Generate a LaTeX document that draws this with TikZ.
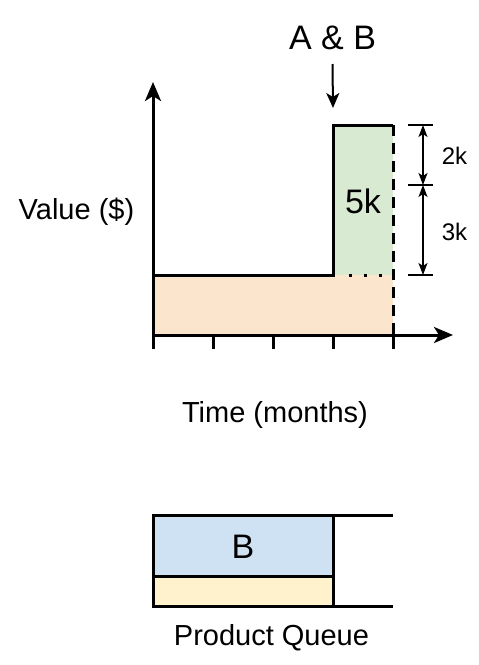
\documentclass[tikz,border=0pt]{standalone}
\usepackage{fontspec}
\setmainfont{Liberation Sans}
\usetikzlibrary{arrows.meta,positioning}
\definecolor{peach}{HTML}{FCE5CD}
\definecolor{mint}{HTML}{D9EAD3}
\definecolor{sky}{HTML}{CFE2F3}
\definecolor{cream}{HTML}{FFF2CC}

\begin{document}
\begin{tikzpicture}[x=1pt,y=-1pt,line join=miter,
   >={Stealth[length=19pt,width=16pt,inset=5pt]},
   heavy/.style={line width=3pt},
   dimline/.style={line width=1.3pt,{Stealth[length=12pt,width=9pt,inset=3pt]}-{Stealth[length=12pt,width=9pt,inset=3pt]}},
   lbl/.style={font=\fontsize{29}{34}\selectfont,inner sep=0pt,anchor=base},
   big/.style={font=\fontsize{34}{40}\selectfont,inner sep=0pt,anchor=base},
   small/.style={font=\fontsize{24}{28}\selectfont,inner sep=0pt,anchor=base}]
 \useasboundingbox (0,0) rectangle (479,665);
 % areas under the curve
 \fill[peach] (153,275) rectangle (393,335);
 \fill[mint] (333,125) rectangle (393,275);
 % axes
 \draw[heavy,->] (153,349) -- (153,82);
 \draw[heavy,->] (151.5,335) -- (453,335);
 \foreach \x in {213,273,333,393}
   \draw[heavy] (\x,335) -- (\x,349);
 % value line
 \draw[heavy] (153,275) -- (333,275) -- (333,125) -- (393,125);
 \draw[heavy,dash pattern=on 11pt off 7pt] (393,125) -- (393,335);
 \draw[heavy,dash pattern=on 3pt off 12pt] (348.5,275) -- (390,275);
 % dimensions
 \coordinate (d0) at (423,125);
 \coordinate (d1) at (423,185);
 \coordinate (d2) at (423,275);
 \foreach \c in {d0,d1,d2}
   \draw[line width=1.3pt] ([xshift=-15pt]\c) -- ([xshift=10pt]\c);
 \draw[dimline] (d0) -- (d1);
 \draw[dimline] (d1) -- (d2);
 \node[small] (two) at (454.5,164) {2k};
 \node[small] (three) at (454.5,240) {3k};
 % labels
 \node[big] (ab) at (332.5,49) {A \& B};
 \coordinate (jump) at (333,108);
 \draw[line width=2pt,-{Stealth[length=15pt,width=13pt,inset=4pt]}] ([yshift=-15pt]ab.base) -- (jump);
 \node[big] (gain) at (363,213) {5k};
 \node[lbl] (vlab) at (76.5,219) {Value (\$)};
 \node[lbl] (tlab) at (275,422) {Time (months)};
 % queue
 \fill[sky] (153,515) rectangle (333,576);
 \fill[cream] (153,576) rectangle (333,606);
 \draw[heavy] (393,515) -- (153,515) -- (153,606) -- (393,606);
 \draw[heavy] (333,515) -- (333,606);
 \draw[heavy] (153,576) -- (333,576);
 \node[big] (qb) at (243,558) {B};
 \node[lbl] (qlab) at (271.5,645) {Product Queue};
\end{tikzpicture}
\end{document}
